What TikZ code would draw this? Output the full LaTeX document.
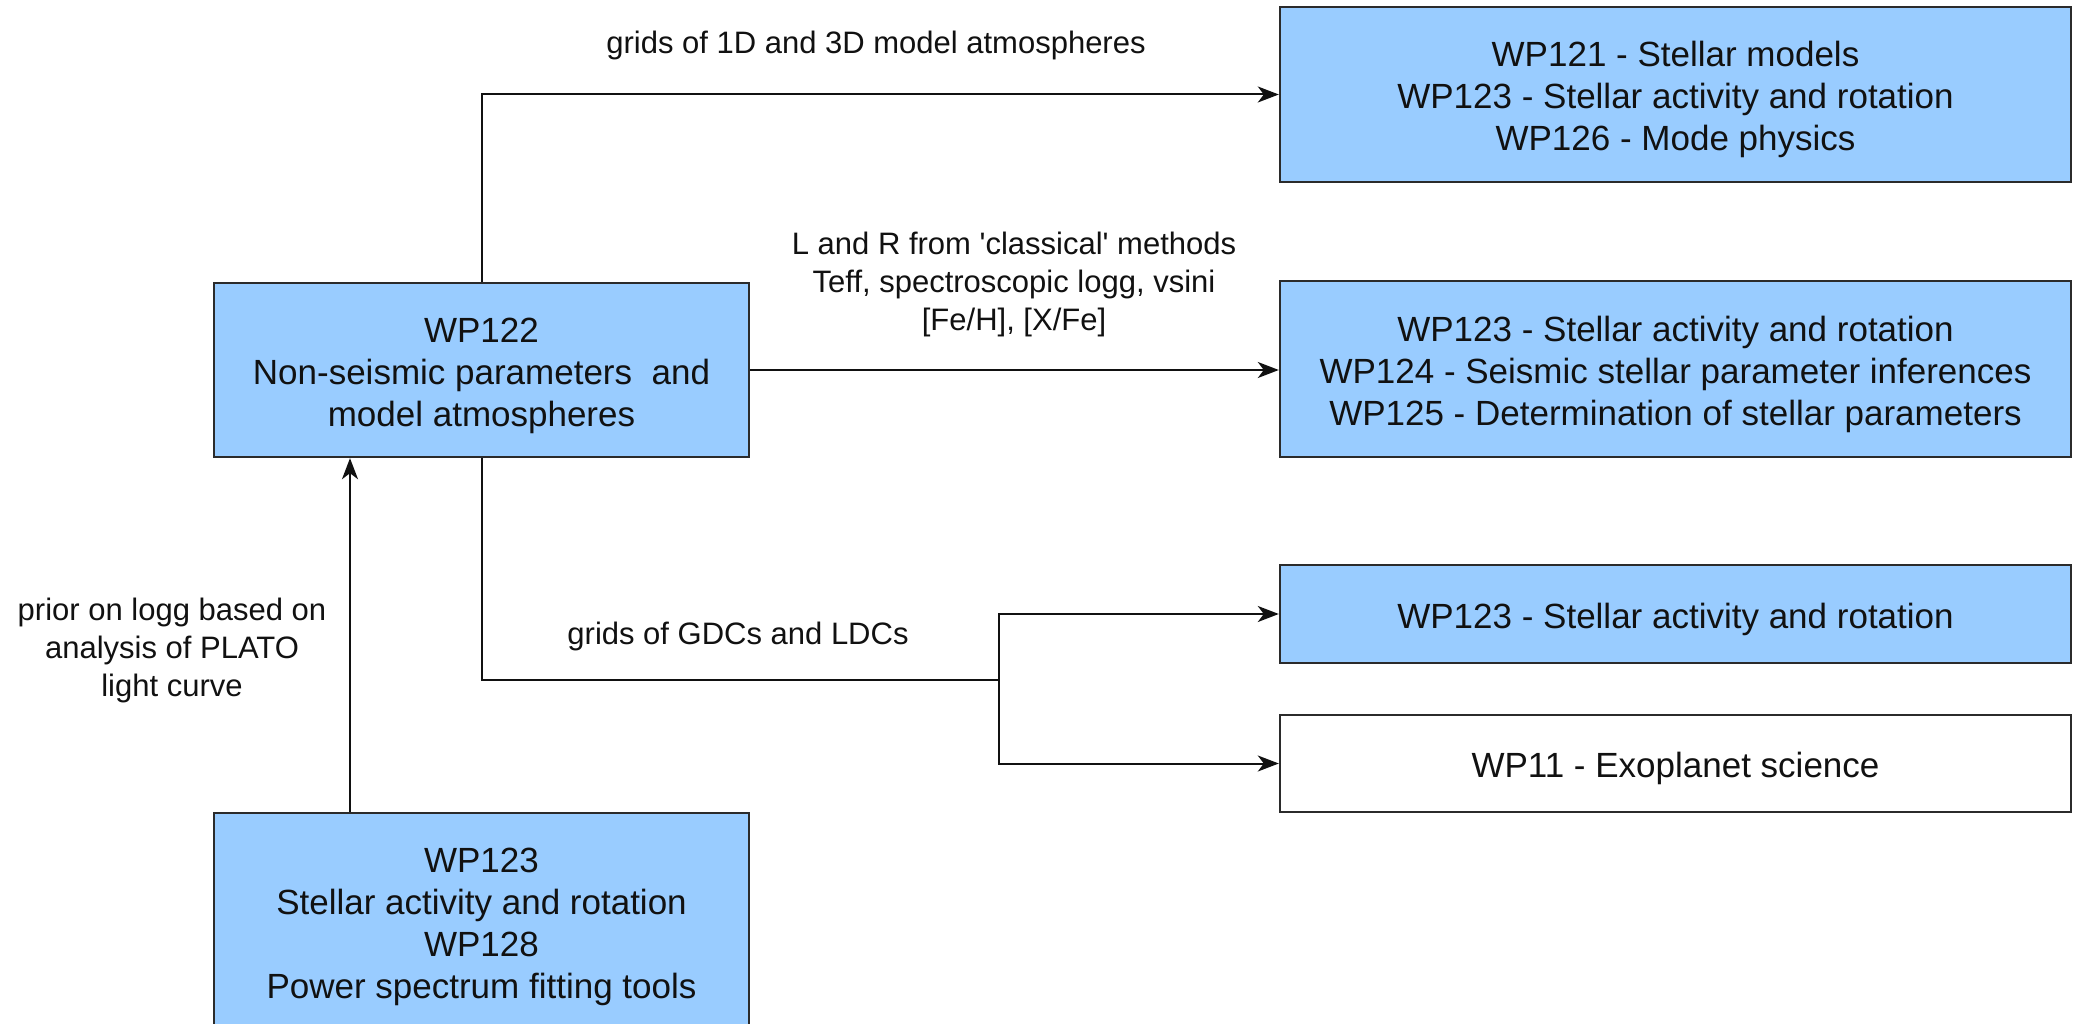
\documentclass[tikz,border=0pt]{standalone}
\usepackage{fontspec}
\setmainfont{Liberation Sans}
\usetikzlibrary{arrows.meta}
\definecolor{boxblue}{HTML}{99CCFF}
\definecolor{edge}{HTML}{2B2B2B}
\definecolor{ink}{HTML}{111111}
\newcommand{\mlines}[1]{\raisebox{-6pt}[\height][\depth]{\begin{tabular}{@{}c@{}}#1\end{tabular}}}
\tikzset{
  wpbox/.style={draw=edge, line width=2.4pt, fill=boxblue,
    inner sep=0pt, text=ink, font=\fontsize{35}{42}\selectfont},
  wpwhite/.style={wpbox, fill=white},
  lbl/.style={align=center, inner sep=0pt, text=ink, font=\fontsize{31}{38}\selectfont},
  conn/.style={draw=ink, line width=2pt},
  arr/.style={conn, -{Stealth[length=21pt, width=16pt, inset=6pt]}},
}
\begin{document}
\begin{tikzpicture}[x=1pt, y=-1pt]
\useasboundingbox (0,0) rectangle (2073,1024);
\clip (0,0) rectangle (2073,1024);
\fill[white] (0,0) rectangle (2073,1024);

\node[wpbox, minimum width=535pt, minimum height=174pt] (wp122) at (481.5,370)
  {\mlines{WP122\\Non-seismic parameters\ \ and\\model atmospheres}};
\node[wpbox, minimum width=791pt, minimum height=175pt] (top) at (1675.5,94.5)
  {\mlines{WP121 - Stellar models\\WP123 - Stellar activity and rotation\\WP126 - Mode physics}};
\node[wpbox, minimum width=791pt, minimum height=176pt] (mid) at (1675.5,369)
  {\mlines{WP123 - Stellar activity and rotation\\WP124 - Seismic stellar parameter inferences\\WP125 - Determination of stellar parameters}};
\node[wpbox, minimum width=791pt, minimum height=98pt] (s123) at (1675.5,614)
  {\mlines{WP123 - Stellar activity and rotation}};
\node[wpwhite, minimum width=791pt, minimum height=97pt] (wp11) at (1675.5,763.5)
  {\mlines{WP11 - Exoplanet science}};
\node[wpbox, minimum width=535pt, minimum height=217pt] (bot) at (481.5,921.5)
  {\mlines{WP123\\Stellar activity and rotation\\WP128\\Power spectrum fitting tools}};

\node[lbl] (l1) at (876,45) {grids of 1D and 3D model atmospheres};
\node[lbl] (l2) at (1014,284) {L and R from \textquotesingle classical\textquotesingle{} methods\\Teff, spectroscopic logg, vsini\\{[Fe/H], [X/Fe]}};
\node[lbl] (l3) at (738,636) {grids of GDCs and LDCs};
\node[lbl] (l4) at (172,650) {prior on logg based on\\analysis of PLATO\\light curve};

\coordinate (j1) at (999,680);
\coordinate (px) at (350,0);

\draw[arr] (wp122.north) |- (top.west);
\draw[arr] (wp122.east) -- (wp122.east -| mid.west);
\draw[conn] (wp122.south) |- (j1);
\draw[arr] (j1) |- (s123.west);
\draw[arr] (j1) |- (wp11.west);
\draw[arr] (bot.north -| px) -- (wp122.south -| px);
\end{tikzpicture}
\end{document}
